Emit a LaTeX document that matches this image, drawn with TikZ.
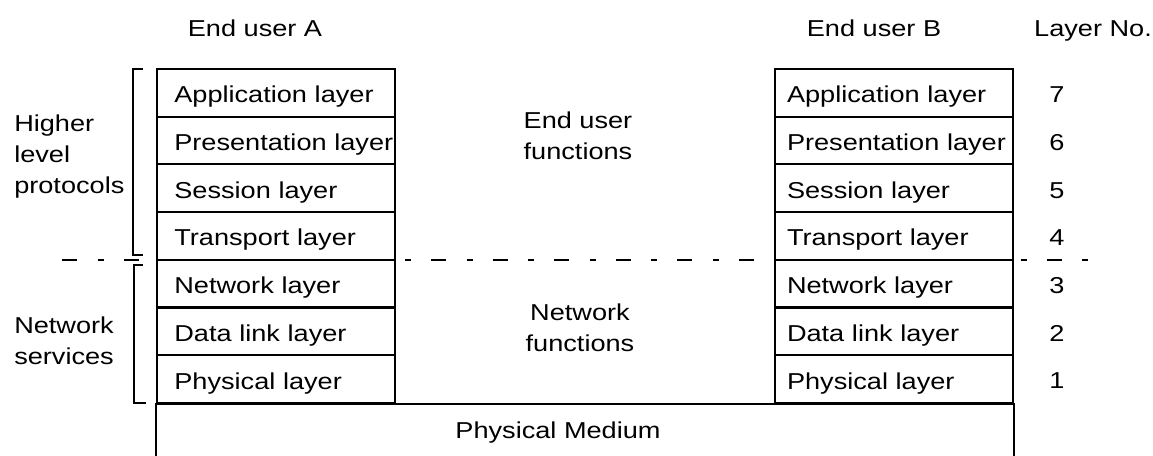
\documentclass[tikz,border=0pt]{standalone}
\usepackage{fontspec}
\setmainfont{Liberation Sans}[FakeStretch=1.18]

\tikzset{
  layerbox/.style={draw, line width=1.5pt, minimum height=35.8pt, inner ysep=0pt, align=left,
    text height=15pt, text depth=0pt},
  leftbox/.style={layerbox, inner xsep=13pt, text width=152.5pt},
  rightbox/.style={layerbox, inner xsep=9pt, text width=160.5pt},
  lbl/.style={inner sep=0pt},
  bracket/.style={line width=1.3pt},
  sepline/.style={line width=0.9pt, dash pattern=on 11.25pt off 15.4pt on 4.5pt off 15pt},
}

\begin{document}
\begin{tikzpicture}[x=0.75pt, y=-0.75pt, font=\fontsize{17.25}{23.25}\selectfont]
  \useasboundingbox (0,0) rectangle (1153,456);

  % Column headings
  \node[lbl, anchor=base] (userA) at (255,37) {End user A};
  \node[lbl, anchor=base] (userB) at (874,37) {End user B};
  \node[lbl, anchor=base] (layerno) at (1093,37) {Layer No.};

  % Both stacks and the layer numbers
  \foreach \n/\lname in {7/Application layer, 6/Presentation~layer, 5/Session layer,
      4/Transport layer, 3/Network layer, 2/Data link layer, 1/Physical layer}{
    \node[leftbox] (a\n) at (276, {69+47.7*(7-\n)+23.85}) {\lname};
    \node[rightbox] (b\n) at (894, {69+47.7*(7-\n)+23.85}) {\lname};
    \node[lbl] (n\n) at (1057, {71+47.7*(7-\n)+23.85}) {\n};
  }

  % Physical medium, open at the bottom
  \draw[line width=1.5pt] (a1.south west) ++(0,60) -- (a1.south west) -- (b1.south east) -- ++(0,60);
  \node[lbl, anchor=base] (medium) at (558,438) {Physical Medium};

  % Middle texts
  \node[align=center] (endfun) at (578,136) {End user\\functions};
  \node[align=center] (netfun) at (580,328) {Network\\functions};

  % Brackets on the left
  \draw[bracket] (143,69) -- (133,69) -- (133,255) -- (143,255);
  \draw[bracket] (143,265) -- (134,265) -- (134,403) -- (146,403);
  \node[lbl, align=left, anchor=west] (higher) at (14,157) {Higher\\level\\protocols};
  \node[lbl, align=left, anchor=west] (netserv) at (14,341) {Network\\services};

  % Boundary between the two groups
  \draw[sepline] (62,260) -- (1108,260);
\end{tikzpicture}
\end{document}
